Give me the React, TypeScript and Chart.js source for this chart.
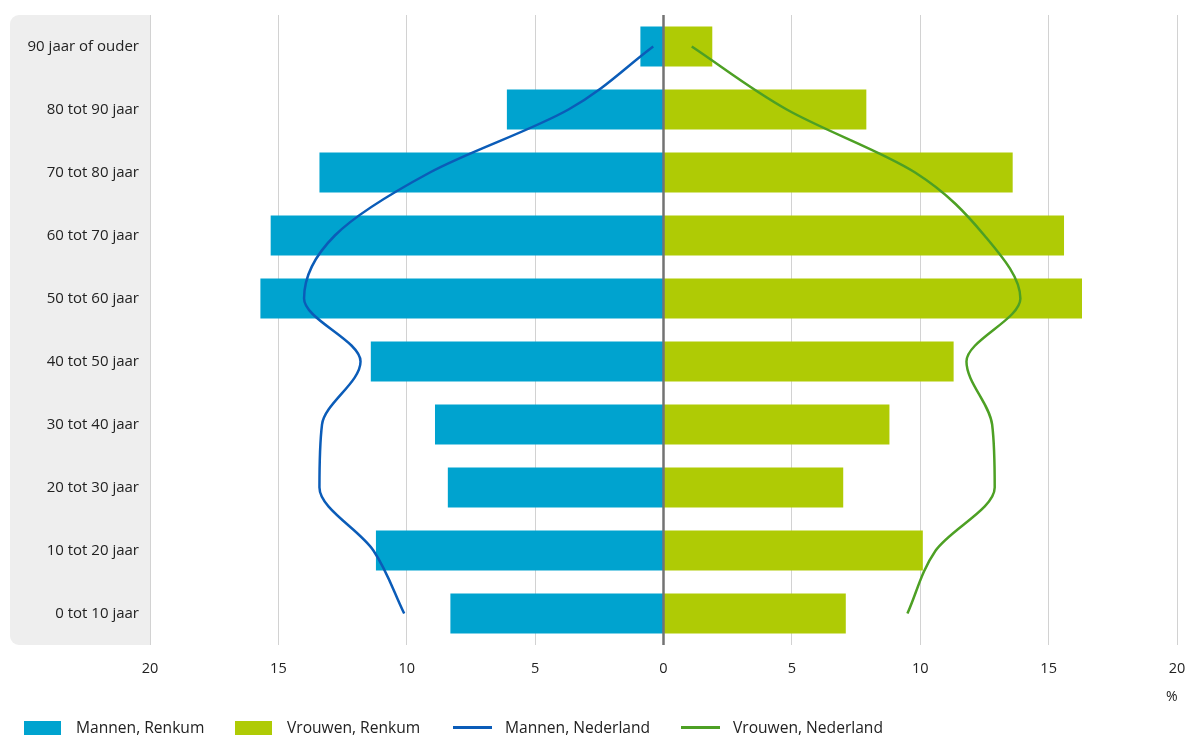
import React, { useEffect, useRef } from 'react';
import { Chart, registerables } from 'chart.js';

Chart.register(...registerables);

const categories = [
  '90 jaar of ouder',
  '80 tot 90 jaar',
  '70 tot 80 jaar',
  '60 tot 70 jaar',
  '50 tot 60 jaar',
  '40 tot 50 jaar',
  '30 tot 40 jaar',
  '20 tot 30 jaar',
  '10 tot 20 jaar',
  '0 tot 10 jaar',
];
const mannenRenkum = [-0.9, -6.1, -13.4, -15.3, -15.7, -11.4, -8.9, -8.4, -11.2, -8.3];
const vrouwenRenkum = [1.9, 7.9, 13.6, 15.6, 16.3, 11.3, 8.8, 7.0, 10.1, 7.1];
const mannenNederland = [-0.4, -3.7, -9.1, -12.8, -14.0, -11.8, -13.3, -13.4, -11.3, -10.1];
const vrouwenNederland = [1.1, 4.8, 9.8, 12.5, 13.9, 11.8, 12.8, 12.9, 10.6, 9.5];
const xMin = -20;
const xMax = 20;
const xStep = 5;

const legendItems = [
  { label: 'Mannen, Renkum', kind: 'box', color: '#00a3cf' },
  { label: 'Vrouwen, Renkum', kind: 'box', color: '#afcb05' },
  { label: 'Mannen, Nederland', kind: 'line', color: '#0b5cb8' },
  { label: 'Vrouwen, Nederland', kind: 'line', color: '#4da024' },
];

const FONT = '"Open Sans", "Noto Sans", sans-serif';
const TEXT = '#222222';

export default function App() {
  const ref = useRef<HTMLCanvasElement>(null);

  useEffect(() => {
    if (!ref.current) return;

    const panel = {
      id: 'panel',
      beforeDraw(chart: any) {
        const { ctx, chartArea } = chart;
        const x0 = 10;
        const x1 = chartArea.left;
        const y0 = chartArea.top;
        const y1 = chartArea.bottom;
        const r = 9;
        ctx.save();
        ctx.fillStyle = '#eeeeee';
        ctx.beginPath();
        ctx.moveTo(x1, y0);
        ctx.lineTo(x0 + r, y0);
        ctx.arcTo(x0, y0, x0, y0 + r, r);
        ctx.lineTo(x0, y1 - r);
        ctx.arcTo(x0, y1, x0 + r, y1, r);
        ctx.lineTo(x1, y1);
        ctx.closePath();
        ctx.fill();
        ctx.restore();
      },
    };

    const zeroLine = {
      id: 'zeroLine',
      afterDatasetsDraw(chart: any) {
        const { ctx, chartArea, scales } = chart;
        const x = scales.x.getPixelForValue(0);
        ctx.save();
        ctx.strokeStyle = '#737373';
        ctx.lineWidth = 2.5;
        ctx.beginPath();
        ctx.moveTo(x, chartArea.top);
        ctx.lineTo(x, chartArea.bottom);
        ctx.stroke();
        ctx.restore();
      },
    };

    const chart = new Chart(ref.current, {
      type: 'bar',
      data: {
        labels: categories,
        datasets: [
          {
            type: 'line',
            label: 'Mannen, Nederland',
            data: mannenNederland,
            borderColor: '#0b5cb8',
            backgroundColor: '#0b5cb8',
            borderWidth: 2.5,
            pointRadius: 0,
            cubicInterpolationMode: 'monotone',
            fill: false,
            order: 0,
          } as any,
          {
            type: 'line',
            label: 'Vrouwen, Nederland',
            data: vrouwenNederland,
            borderColor: '#4da024',
            backgroundColor: '#4da024',
            borderWidth: 2.5,
            pointRadius: 0,
            cubicInterpolationMode: 'monotone',
            fill: false,
            order: 0,
          } as any,
          {
            type: 'bar',
            label: 'Mannen, Renkum',
            data: mannenRenkum,
            backgroundColor: '#00a3cf',
            categoryPercentage: 0.635,
            barPercentage: 1,
            order: 1,
          },
          {
            type: 'bar',
            label: 'Vrouwen, Renkum',
            data: vrouwenRenkum,
            backgroundColor: '#afcb05',
            categoryPercentage: 0.635,
            barPercentage: 1,
            order: 1,
          },
        ],
      },
      options: {
        indexAxis: 'y',
        responsive: false,
        animation: false,
        devicePixelRatio: 1,
        layout: { padding: { top: 15, right: 8, left: 0, bottom: 0 } },
        plugins: {
          legend: { display: false },
          tooltip: { enabled: false },
        },
        scales: {
          x: {
            type: 'linear',
            min: xMin,
            max: xMax,
            border: { display: false },
            grid: {
              drawTicks: false,
              color: (c: any) => (c.tick && c.tick.value === 0 ? 'rgba(0,0,0,0)' : '#d2d2d2'),
              lineWidth: 1,
            },
            ticks: {
              stepSize: xStep,
              padding: 15,
              color: TEXT,
              font: { family: FONT, size: 14.5 },
              callback: (v: any) => String(Math.abs(Number(v))),
            },
            afterFit: (scale: any) => {
              scale.height = 90;
              scale.paddingLeft = 0;
              scale.paddingRight = 0;
            },
          },
          y: {
            type: 'category',
            stacked: true,
            border: { display: false },
            grid: { display: false, drawTicks: false },
            ticks: {
              padding: 11,
              color: TEXT,
              font: { family: FONT, size: 15 },
            },
            afterFit: (scale: any) => {
              scale.width = 150;
              scale.paddingTop = 0;
              scale.paddingBottom = 0;
            },
          },
        },
      },
      plugins: [panel, zeroLine],
    });

    return () => chart.destroy();
  }, []);

  const lefts = [24, 235, 453, 681];

  return (
    <div
      style={{
        position: 'absolute',
        left: 0,
        top: 0,
        width: 1185,
        height: 735,
        overflow: 'hidden',
        background: '#ffffff',
        fontFamily: FONT,
      }}
    >
      <canvas ref={ref} width={1185} height={735} style={{ display: 'block' }} />
      <div
        style={{
          position: 'absolute',
          left: 1166,
          top: 686,
          fontSize: 14,
          color: TEXT,
          lineHeight: '20px',
        }}
      >
        %
      </div>
      {legendItems.map((item, i) => {
        const left = lefts[i];
        return (
          <React.Fragment key={item.label}>
            {item.kind === 'box' ? (
              <div
                style={{
                  position: 'absolute',
                  left,
                  top: 721,
                  width: 37,
                  height: 16,
                  background: item.color,
                }}
              />
            ) : (
              <div
                style={{
                  position: 'absolute',
                  left,
                  top: 726,
                  width: 39,
                  height: 3,
                  background: item.color,
                }}
              />
            )}
            <div
              style={{
                position: 'absolute',
                left: left + 52,
                top: 716,
                fontSize: 15.6,
                color: TEXT,
                lineHeight: '22px',
                whiteSpace: 'nowrap',
              }}
            >
              {item.label}
            </div>
          </React.Fragment>
        );
      })}
    </div>
  );
}
